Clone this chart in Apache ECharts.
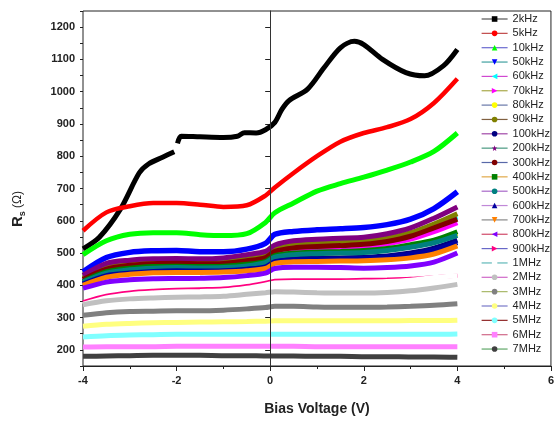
<!DOCTYPE html>
<html>
<head>
<meta charset="utf-8">
<script src="https://cdn.jsdelivr.net/npm/echarts@6/dist/echarts.min.js"></script>
<style>
html, body { margin: 0; padding: 0; background: #fff; }
#chart { width: 557px; height: 421px; }
</style>
</head>
<body>
<div id="chart"></div>
<script>
// bias voltage (V)
var volts = [-4, -3.5, -3, -2.5, -2, -1.5, -1, -0.5, -0.1, 0.1, 0.5, 1, 1.5, 2, 2.5, 3, 3.5, 4];
var blackVolts = [-4, -3.65, -3.2, -2.8, -2.6, -2.3, -2.05, -2.02, -1.98, -1.9, -1.5, -1.0, -0.7, -0.55, -0.3, -0.1, 0.1, 0.25, 0.4, 0.8, 1.15, 1.5, 1.8, 2.0, 2.4, 2.9, 3.3, 3.7, 4.0];

// Rs (ohm) per frequency
var rs2k = [513, 549, 636, 748, 776, 797, 814, null, 840, 862, 860, 858, 862, 873, 872, 882, 905, 945, 972, 1008, 1074, 1136, 1156, 1146, 1100, 1059, 1049, 1080, 1131];
var rs5k = [569, 626, 645, 655, 655, 650, 643, 648, 678, 703, 748, 800, 845, 872, 890, 915, 965, 1040];
var rs10k = [495, 538, 558, 563, 563, 557, 554, 560, 595, 625, 655, 692, 715, 735, 757, 782, 815, 872];
var rs50k = [442, 486, 502, 507, 508, 504, 504, 512, 530, 558, 567, 572, 575, 579, 588, 605, 638, 690];
var rs60k = [418, 452, 464, 469, 470, 469, 470, 478, 489, 508, 520, 525, 528, 532, 540, 556, 582, 612];
var rs70k = [415, 448, 459, 464, 465, 464, 465, 472, 482, 500, 511, 515, 518, 521, 529, 543, 566, 594];
var rs80k = [410, 440, 450, 455, 456, 455, 456, 462, 471, 488, 496, 499, 501, 503, 509, 520, 536, 560];
var rs90k = [422, 455, 467, 472, 474, 472, 474, 482, 493, 512, 525, 530, 533, 537, 546, 563, 590, 622];
var rs100k = [406, 432, 441, 446, 448, 447, 448, 453, 460, 476, 482, 484, 485, 487, 491, 500, 515, 540];
var rs200k = [431, 468, 478, 482, 483, 482, 485, 495, 505, 525, 538, 543, 546, 549, 560, 578, 608, 643];
var rs300k = [418, 450, 462, 467, 468, 467, 468, 476, 486, 505, 516, 520, 523, 527, 536, 552, 578, 605];
var rs400k = [412, 442, 453, 458, 459, 458, 459, 465, 474, 492, 500, 503, 505, 508, 514, 526, 540, 566];
var rs500k = [410, 438, 448, 453, 455, 454, 455, 460, 470, 487, 495, 498, 500, 502, 508, 518, 532, 555];
var rs600k = [404, 430, 438, 443, 445, 444, 445, 450, 457, 473, 479, 481, 482, 484, 488, 496, 510, 532];
var rs700k = [400, 425, 434, 439, 440, 440, 441, 445, 452, 468, 473, 474, 475, 476, 479, 485, 497, 522];
var rs800k = [391, 410, 417, 420, 421, 422, 424, 430, 438, 452, 456, 456, 455, 453, 455, 460, 472, 500];
var rs900k = [348, 368, 378, 383, 386, 388, 390, 398, 408, 414, 416, 416, 416, 417, 418, 420, 425, 430];
var rs1M = [341, 361, 371, 376, 379, 381, 383, 391, 401, 407, 409, 409, 409, 410, 412, 416, 424, 430];
var rs2M = [340, 352, 358, 361, 363, 364, 366, 372, 377, 380, 379, 377, 376, 376, 378, 383, 392, 403];
var rs3M = [307, 315, 319, 320, 321, 321, 323, 327, 331, 335, 335, 333, 332, 332, 333, 335, 338, 343];
var rs4M = [273, 279, 282, 284, 285, 286, 287, 288, 289, 290, 290, 290, 290, 290, 290, 291, 291, 292];
var rs5M = [240, 244, 246, 247, 248, 248, 248, 248, 248, 248, 248, 248, 248, 248, 248, 248, 248, 249];
var rs6M = [209, 210, 210, 210, 211, 211, 211, 211, 211, 211, 211, 210, 210, 210, 210, 210, 210, 210];
var rs7M = [180, 181, 182, 183, 183, 183, 182, 182, 181, 181, 181, 180, 180, 179, 179, 178, 178, 177];

var names = ['2kHz', '5kHz', '10kHz', '50kHz', '60kHz', '70kHz', '80kHz', '90kHz', '100kHz', '200kHz', '300kHz', '400kHz',
	'500kHz', '600kHz', '700kHz', '800kHz', '900kHz', '1MHz', '2MHz', '3MHz', '4MHz', '5MHz', '6MHz', '7MHz'];
var values = [rs2k, rs5k, rs10k, rs50k, rs60k, rs70k, rs80k, rs90k, rs100k, rs200k, rs300k, rs400k,
	rs500k, rs600k, rs700k, rs800k, rs900k, rs1M, rs2M, rs3M, rs4M, rs5M, rs6M, rs7M];
var yTicks = [200, 300, 400, 500, 600, 700, 800, 900, 1000, 1100, 1200];

// origin style colours
var colors = ['#000000', '#FF0000', '#00FF00', '#0000FF', '#00FFFF', '#FF00FF', '#FFFF00', '#808000', '#000080', '#800080', '#800000', '#008000',
	'#008080', '#0000A0', '#FF8000', '#8000FF', '#FF0080', '#FFFFFF', '#C0C0C0', '#808080', '#FFFF80', '#80FFFF', '#FF80FF', '#404040'];
var legendLine = ['#555555', '#c04848', '#6a6ad0', '#40a0a0', '#d048d0', '#a8a848', '#6878a8', '#806040', '#a048a8', '#489880', '#5868a8', '#e0a848',
	'#a868c8', '#c088d8', '#888888', '#d04868', '#6868c8', '#60b8b8', '#d068c8', '#a8b868', '#7878c8', '#902828', '#d06888', '#60a868'];

var down = 'path://M0,0 L10,0 L5,9 Z';
var left = 'path://M10,0 L10,10 L1,5 Z';
var right = 'path://M0,0 L9,5 L0,10 Z';
var star = 'path://M5,0 L6.2,3.6 L10,3.6 L7,5.9 L8.1,9.5 L5,7.3 L1.9,9.5 L3,5.9 L0,3.6 L3.8,3.6 Z';
var symbols = ['rect', 'circle', 'triangle', down, left, right, 'circle', 'circle', 'circle', star, 'circle', 'rect',
	'circle', 'triangle', down, left, right, 'circle', 'circle', 'circle', 'circle', 'circle', 'rect', 'circle'];
var widths = [5, 4.5, 5, 5.5, 5, 5, 5, 5, 5, 5, 5, 5, 5, 5, 5, 5, 4, 5, 5, 5, 5, 5, 5, 5];

var font = 'Arial, "Liberation Sans", sans-serif';

var series = [];
var legendData = [];
for (var i = 0; i < names.length; i++) {
	var xs = i == 0 ? blackVolts : volts;
	var arr = values[i];
	var pts = [];
	for (var j = 0; j < xs.length; j++) {
		pts.push([xs[j], arr[j] == null ? '-' : arr[j]]);
	}
	var s = {
		name: names[i],
		type: 'line',
		data: pts,
		smooth: 0.3,
		symbol: symbols[i],
		showSymbol: false,
		color: colors[i],
		lineStyle: { width: widths[i], color: colors[i] },
		silent: true
	};
	if (i == names.length - 1) {
		s.markLine = {
			silent: true,
			symbol: 'none',
			label: { show: false },
			lineStyle: { color: '#333', width: 1, type: 'solid' },
			data: [{ xAxis: 0 }]
		};
	}
	series.push(s);
	legendData.push({
		name: names[i],
		itemStyle: { color: colors[i] },
		lineStyle: { color: legendLine[i], width: 1.2 }
	});
}

var myChart = echarts.init(document.getElementById('chart'));
myChart.setOption({
	animation: false,
	backgroundColor: '#fff',
	grid: {
		left: 83,
		right: 1,
		top: 11,
		bottom: 52,
		show: true,
		borderColor: '#222',
		borderWidth: 1
	},
	legend: {
		orient: 'vertical',
		left: 476,
		top: 8,
		itemWidth: 26,
		itemHeight: 7,
		itemGap: 2.35,
		selectedMode: false,
		data: legendData,
		textStyle: { fontSize: 11, lineHeight: 12, color: '#222', fontFamily: font }
	},
	xAxis: {
		type: 'value',
		min: -4,
		max: 6,
		interval: 2,
		name: 'Bias Voltage (V)',
		nameLocation: 'middle',
		nameGap: 36,
		nameTextStyle: { fontSize: 14, fontWeight: 'bold', color: '#222', fontFamily: font },
		axisLine: { onZero: false, lineStyle: { color: '#222', width: 1 } },
		axisTick: { length: 5, lineStyle: { color: '#222' } },
		minorTick: { show: true, splitNumber: 2, length: 3, lineStyle: { color: '#222' } },
		splitLine: { show: false },
		axisLabel: { fontSize: 11, fontWeight: 'bold', color: '#222', margin: 9, fontFamily: font }
	},
	yAxis: [{
		type: 'value',
		min: 150,
		max: 1250,
		interval: 50,
		axisLine: { show: true, lineStyle: { color: '#222', width: 1 } },
		axisTick: { length: 5, customValues: yTicks, lineStyle: { color: '#222' } },
		splitLine: { show: false },
		axisLabel: {
			fontSize: 11, fontWeight: 'bold', color: '#222', margin: 8, customValues: yTicks, fontFamily: font,
			formatter: function(v) { return String(v); }
		}
	}, {
		type: 'value',
		min: 150,
		max: 1250,
		interval: 50,
		position: 'left',
		axisLine: { show: false },
		axisTick: { show: true, length: 3, lineStyle: { color: '#222' } },
		axisLabel: { show: false },
		splitLine: { show: false }
	}],
	graphic: [{
		type: 'text',
		x: 18,
		y: 209,
		rotation: Math.PI / 2,
		style: {
			text: '{r|R}{s|s}{o| (Ω)}',
			align: 'center',
			verticalAlign: 'middle',
			fill: '#222',
			rich: {
				r: { fontSize: 15, fontWeight: 'bold', fontFamily: font, lineHeight: 18 },
				s: { fontSize: 9, fontWeight: 'bold', fontFamily: font, verticalAlign: 'bottom', lineHeight: 12 },
				o: { fontSize: 12, fontFamily: font, lineHeight: 18 }
			}
		}
	}],
	series: series
});
</script>
</body>
</html>
